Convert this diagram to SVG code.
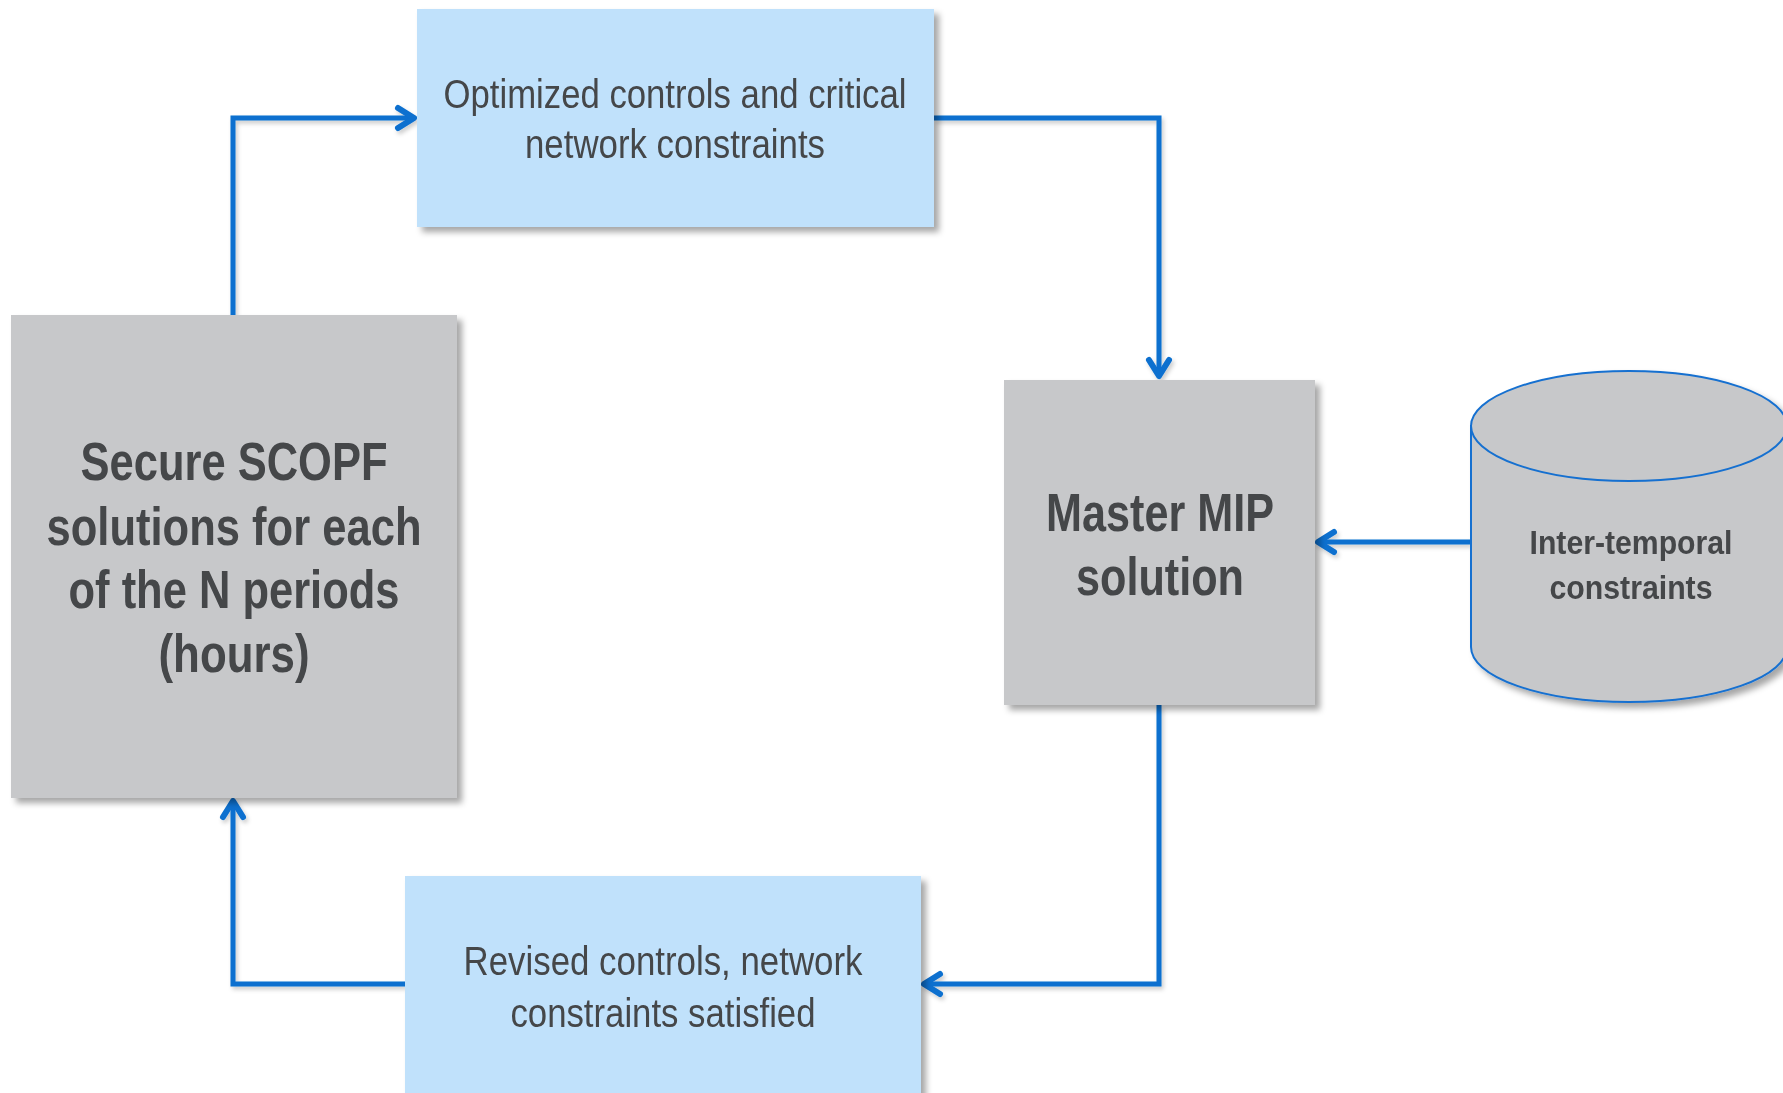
<svg xmlns="http://www.w3.org/2000/svg" width="1783" height="1093" viewBox="0 0 1783 1093">
  <style>
    .blue { fill: #C0E1FB; }
    .gray { fill: #C7C8CA; }
    .lbl { font-family: "Liberation Sans", Arial, sans-serif; fill: #444649; text-anchor: middle; }
    .reg { font-weight: normal; }
    .bold { font-weight: bold; }
    .conn { fill: none; stroke: #0A6FCF; stroke-width: 5; stroke-linejoin: miter; marker-end: url(#chev); }
    .drum { fill: #C7C8CA; stroke: #1570D0; stroke-width: 2; }
  </style>
  <defs>
    <filter id="shadow" x="-10%" y="-10%" width="130%" height="130%">
      <feDropShadow dx="5" dy="5" stdDeviation="3" flood-color="#000" flood-opacity="0.35"/>
    </filter>
    <filter id="lineShadow" x="-10%" y="-10%" width="130%" height="130%">
      <feDropShadow dx="2" dy="3" stdDeviation="2" flood-color="#000" flood-opacity="0.2"/>
    </filter>
    <!-- open chevron arrowhead, tip 3px ahead of the path end -->
    <marker id="chev" markerUnits="userSpaceOnUse" orient="auto" markerWidth="50" markerHeight="50" viewBox="-25 -25 50 50" refX="0" refY="0" overflow="visible">
      <path d="M-14,-10 L2,0 L-14,10" fill="none" stroke="#0A6FCF" stroke-width="6" stroke-linecap="round" stroke-linejoin="round"/>
    </marker>
  </defs>

  <rect width="1783" height="1093" fill="#ffffff"/>

  <!-- connectors -->
  <g id="connectors" filter="url(#lineShadow)">
    <path class="conn" d="M233,315 L233,118 L412,118"/>
    <path class="conn" d="M934,118 L1159,118 L1159,374"/>
    <path class="conn" d="M1470,542 L1320,542"/>
    <path class="conn" d="M1159,705 L1159,984 L926,984"/>
    <path class="conn" d="M405,984 L233,984 L233,803"/>
  </g>

  <!-- optimized controls -->
  <g id="optimized" filter="url(#shadow)">
    <rect class="blue" x="417" y="9" width="517" height="218"/>
    <text class="lbl reg" font-size="40" x="675" y="108" textLength="463" lengthAdjust="spacingAndGlyphs">Optimized controls and critical</text>
    <text class="lbl reg" font-size="40" x="675" y="158" textLength="300" lengthAdjust="spacingAndGlyphs">network constraints</text>
  </g>

  <!-- SCOPF per period -->
  <g id="scopf" filter="url(#shadow)">
    <rect class="gray" x="11" y="315" width="446" height="483"/>
    <text class="lbl bold" font-size="53" x="234" y="480" textLength="307" lengthAdjust="spacingAndGlyphs">Secure SCOPF</text>
    <text class="lbl bold" font-size="53" x="234" y="545" textLength="375" lengthAdjust="spacingAndGlyphs">solutions for each</text>
    <text class="lbl bold" font-size="53" x="234" y="608" textLength="331" lengthAdjust="spacingAndGlyphs">of the N periods</text>
    <text class="lbl bold" font-size="53" x="234" y="672" textLength="151" lengthAdjust="spacingAndGlyphs">(hours)</text>
  </g>

  <!-- master MIP -->
  <g id="master" filter="url(#shadow)">
    <rect class="gray" x="1004" y="380" width="311" height="325"/>
    <text class="lbl bold" font-size="53" x="1160" y="531" textLength="228" lengthAdjust="spacingAndGlyphs">Master MIP</text>
    <text class="lbl bold" font-size="53" x="1160" y="595" textLength="168" lengthAdjust="spacingAndGlyphs">solution</text>
  </g>

  <!-- inter-temporal constraints store -->
  <g id="intertemporal" filter="url(#shadow)">
    <path class="drum" d="M1471,426 L1471,647 A158,55 0 0 0 1787,647 L1787,426 Z"/>
    <ellipse class="drum" cx="1629" cy="426" rx="158" ry="55"/>
    <text class="lbl bold" font-size="34" x="1631" y="554" textLength="203" lengthAdjust="spacingAndGlyphs">Inter-temporal</text>
    <text class="lbl bold" font-size="34" x="1631" y="599" textLength="163" lengthAdjust="spacingAndGlyphs">constraints</text>
  </g>

  <!-- revised controls -->
  <g id="revised" filter="url(#shadow)">
    <rect class="blue" x="405" y="876" width="516" height="230"/>
    <text class="lbl reg" font-size="40" x="663" y="975" textLength="399" lengthAdjust="spacingAndGlyphs">Revised controls, network</text>
    <text class="lbl reg" font-size="40" x="663" y="1027" textLength="305" lengthAdjust="spacingAndGlyphs">constraints satisfied</text>
  </g>
</svg>
